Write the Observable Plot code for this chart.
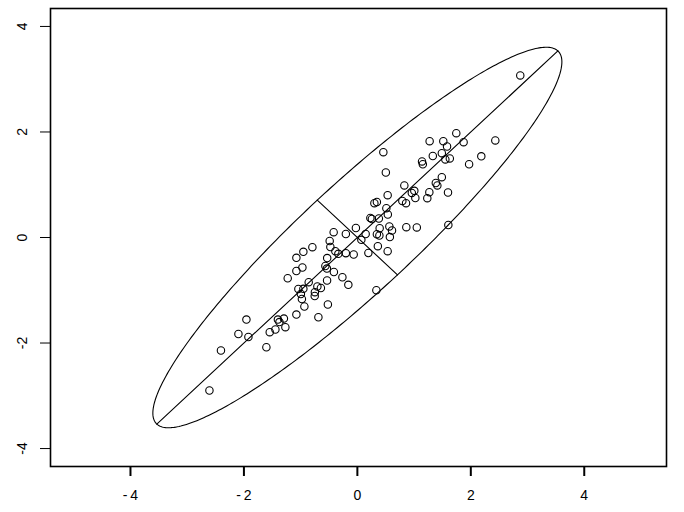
<!DOCTYPE html>
<html>
<head>
<meta charset="utf-8">
<script src="https://cdn.jsdelivr.net/npm/d3@7"></script>
<script src="https://cdn.jsdelivr.net/npm/@observablehq/plot@0.6"></script>
<style>
  html, body { margin: 0; padding: 0; background: #fff; }
  #chart svg { display: block; }
</style>
</head>
<body>
<div id="chart"></div>
<script>
// scatter points
const px = [-2.608,-2.405,-1.956,-2.097,-1.921,-1.604,-1.545,-1.445,-1.269,-1.401,-1.374,-1.295,-1.075,-0.934,-0.687,-0.520,
  -0.996,-1.040,-0.952,-0.858,-0.749,-0.752,-0.705,-0.643,-0.978,-1.228,-0.534,-0.264,-0.159,0.335,
  -1.075,-0.969,-0.564,-0.537,-0.414,-1.075,-0.952,-0.793,-0.532,-0.476,-0.388,-0.335,-0.203,-0.065,0.194,0.361,0.534,
  -0.488,-0.418,-0.203,-0.026,0.070,0.146,0.344,0.388,0.573,0.393,0.564,0.611,0.863,1.048,1.604,
  0.229,0.256,0.379,0.537,0.511,0.300,0.344,0.534,0.793,0.858,1.022,1.233,0.828,0.960,1.004,1.269,1.598,
  1.383,1.410,1.489,0.502,0.458,1.140,1.154,1.330,1.489,1.551,1.630,1.970,2.185,1.581,1.274,1.515,1.873,2.432,1.744,2.872];
const py = [-2.900,-2.142,-1.555,-1.829,-1.886,-2.080,-1.795,-1.744,-1.700,-1.555,-1.602,-1.536,-1.460,-1.308,-1.511,-1.270,
  -1.071,-0.976,-0.973,-0.847,-1.037,-1.109,-0.929,-0.957,-1.166,-0.772,-0.815,-0.753,-0.897,-0.999,
  -0.635,-0.569,-0.540,-0.588,-0.654,-0.385,-0.271,-0.184,-0.389,-0.180,-0.260,-0.309,-0.298,-0.322,-0.294,-0.165,-0.260,
  -0.066,0.100,0.066,0.180,-0.044,0.066,0.063,0.038,0.009,0.176,0.209,0.133,0.195,0.190,0.237,
  0.370,0.351,0.360,0.436,0.555,0.650,0.673,0.802,0.692,0.650,0.749,0.745,0.986,0.844,0.885,0.859,0.853,
  1.033,0.986,1.143,1.232,1.617,1.441,1.388,1.545,1.598,1.479,1.498,1.388,1.539,1.725,1.826,1.826,1.807,1.839,1.977,3.071];

// ellipse parameters
const ellipseCenter = [0, 0];
const semiMajor = 5.0;
const semiMinor = 1.0;
const angleDeg = 45;

// axis ticks
const xTicks = [-4, -2, 0, 2, 4];
const yTicks = [-4, -2, 0, 2, 4];

const points = px.map((x, i) => ({x, y: py[i]}));

const th = angleDeg * Math.PI / 180;
const ellPt = (t) => {
  const u = semiMajor * Math.cos(t), v = semiMinor * Math.sin(t);
  return {x: ellipseCenter[0] + u * Math.cos(th) - v * Math.sin(th),
          y: ellipseCenter[1] + u * Math.sin(th) + v * Math.cos(th)};
};
const ellipse = d3.range(0, 361).map(a => ellPt(a * Math.PI / 180));
const majorAxis = [ellPt(0), ellPt(Math.PI)];
const minorAxis = [ellPt(Math.PI / 2), ellPt(3 * Math.PI / 2)];

const fmtX = d => d < 0 ? "-\u2009" + Math.abs(d) : String(d);
const fmtY = d => d < 0 ? "-" + Math.abs(d) : String(d);

const chart = Plot.plot({
  width: 684,
  height: 512,
  marginLeft: 50,
  marginRight: 18,
  marginTop: 8,
  marginBottom: 46,
  style: {fontFamily: "Liberation Sans, Arial, sans-serif", fontSize: "14px", color: "black", background: "white"},
  x: {domain: [-5.41, 5.45]},
  y: {domain: [-4.34, 4.34]},
  marks: [
    Plot.line(ellipse, {x: "x", y: "y", stroke: "black", strokeWidth: 1.1}),
    Plot.line(majorAxis, {x: "x", y: "y", stroke: "black", strokeWidth: 1.1}),
    Plot.line(minorAxis, {x: "x", y: "y", stroke: "black", strokeWidth: 1.1}),
    Plot.dot(points, {x: "x", y: "y", r: 3.7, stroke: "black", strokeWidth: 1.1, fill: "none"}),
    Plot.axisX({ticks: xTicks, tickFormat: fmtX, tickSize: 10, tickPadding: 14, strokeWidth: 2, fontSize: 14, label: null}),
    Plot.axisY({ticks: yTicks, tickFormat: fmtY, tickSize: 10, tickPadding: 14, tickRotate: -90, fontSize: 14, label: null}),
    Plot.frame({stroke: "black", strokeWidth: 1.6})
  ]
});
document.getElementById("chart").appendChild(chart);
</script>
</body>
</html>
